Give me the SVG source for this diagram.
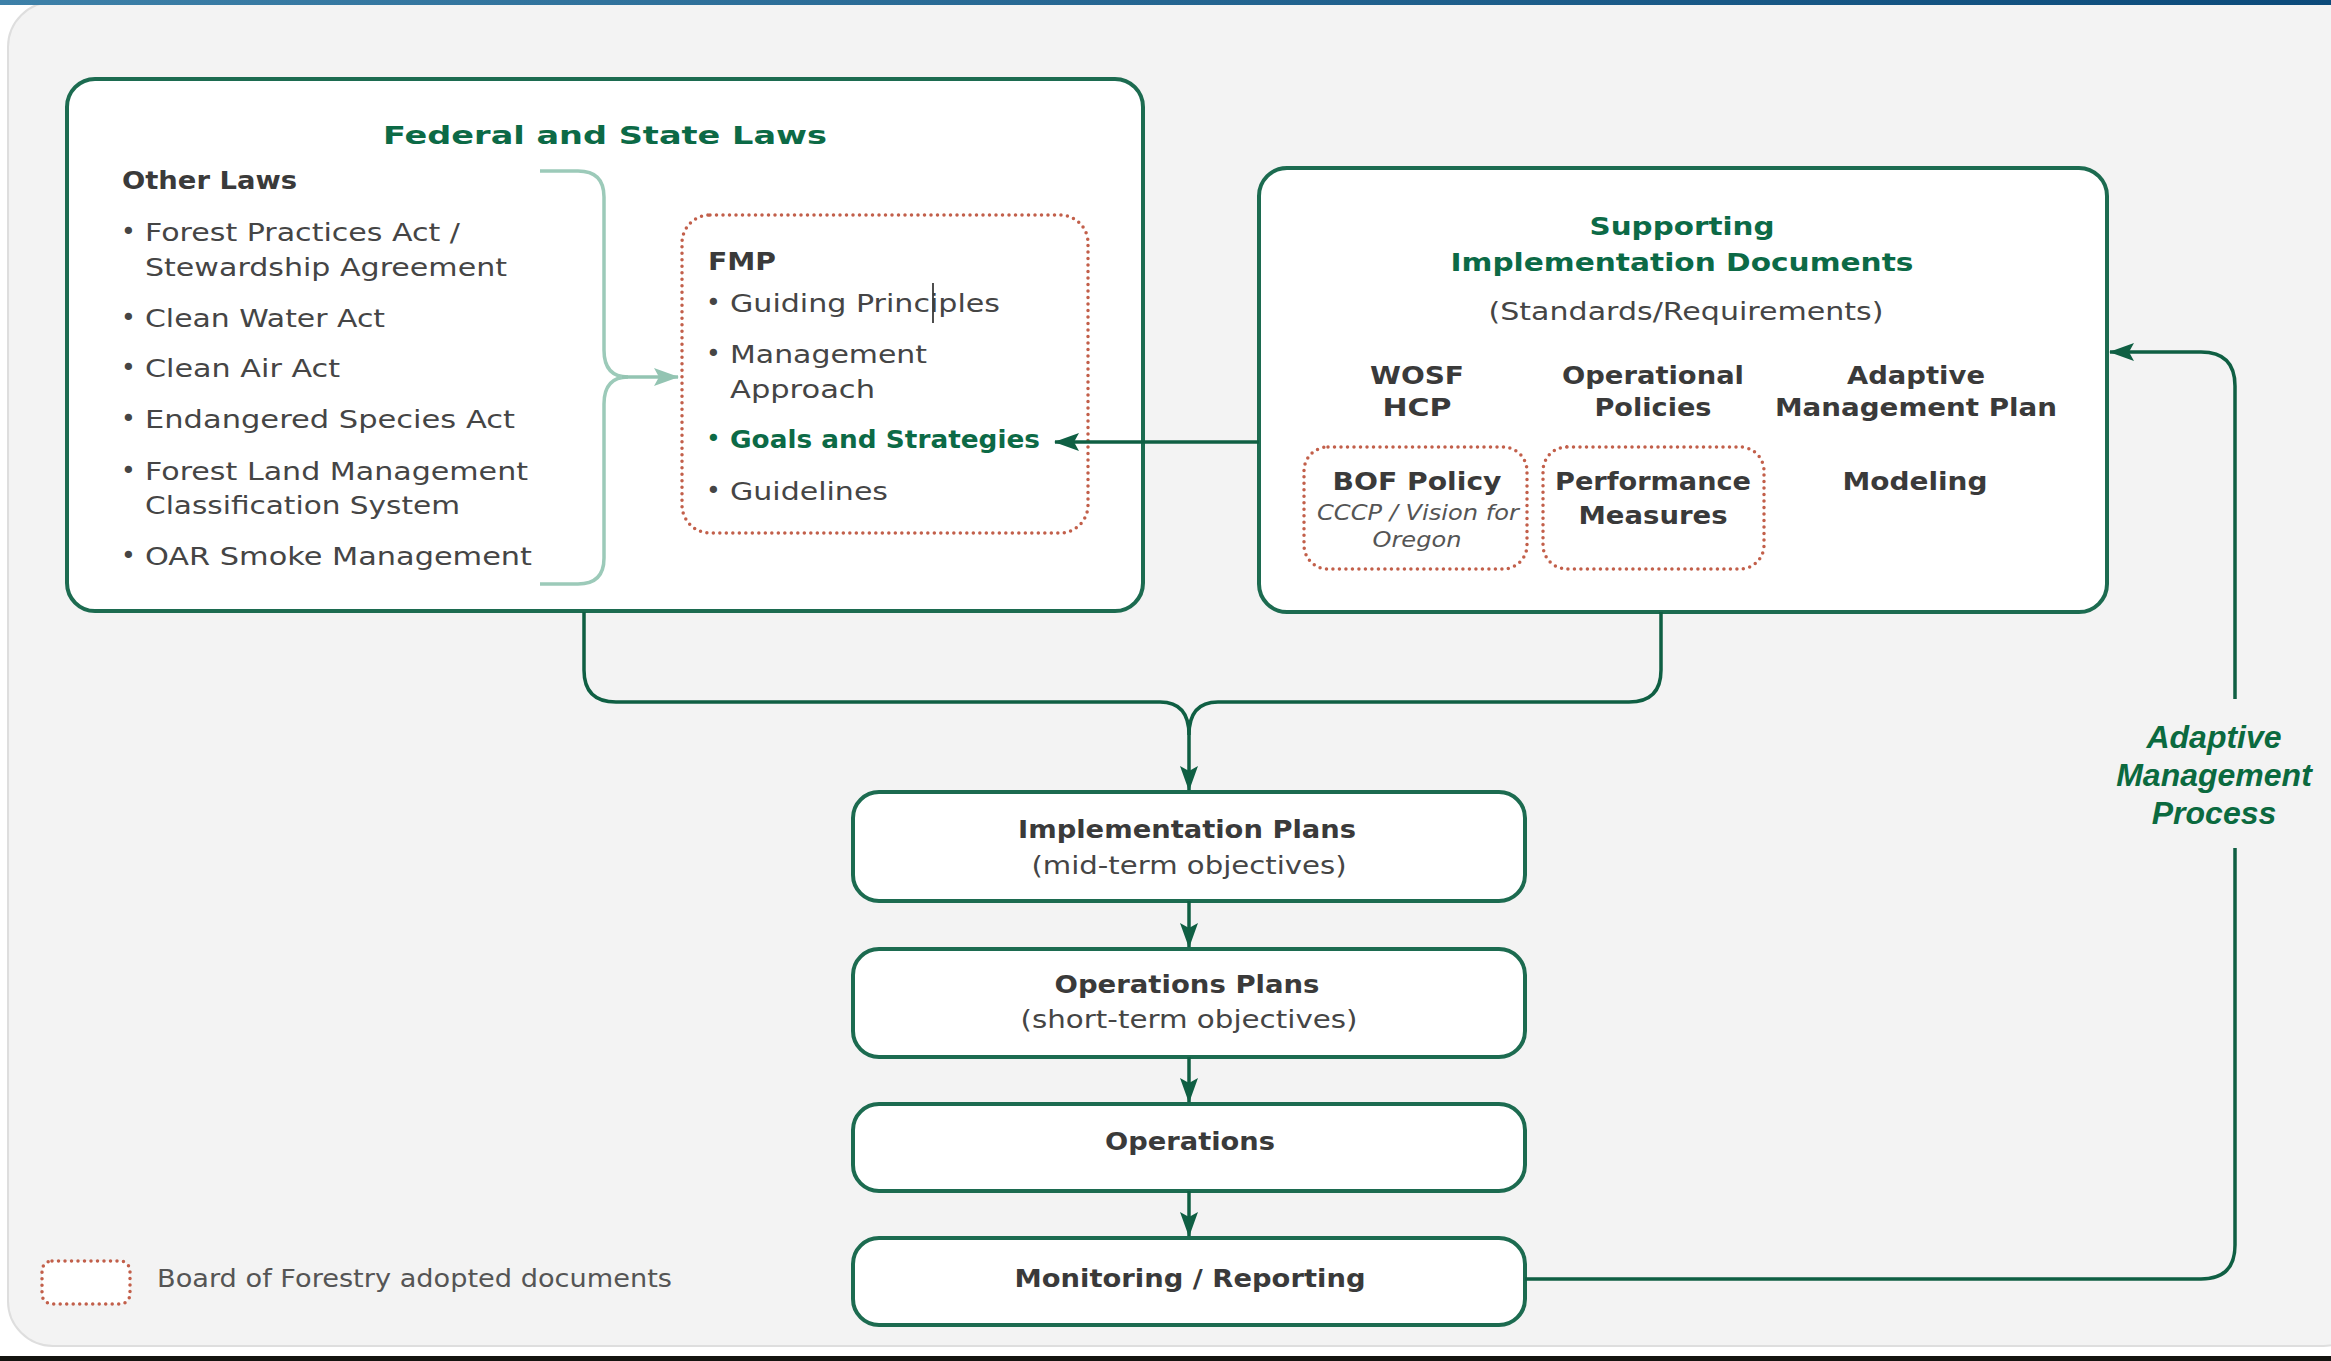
<svg xmlns="http://www.w3.org/2000/svg" width="2331" height="1361" viewBox="0 0 2331 1361">
<defs>
<linearGradient id="topbar" x1="0" y1="0" x2="1" y2="0">
<stop offset="0" stop-color="#3d80a8"/>
<stop offset="1" stop-color="#0b4a7a"/>
</linearGradient>
<marker id="ah" markerUnits="userSpaceOnUse" markerWidth="26" markerHeight="18" refX="24" refY="9" orient="auto">
<path d="M0,0 L25,9 L0,18 L5,9 Z" fill="#0f5f43"/>
</marker>
<marker id="ahl" markerUnits="userSpaceOnUse" markerWidth="26" markerHeight="18" refX="24" refY="9" orient="auto">
<path d="M0,0 L25,9 L0,18 L5,9 Z" fill="#93c4b2"/>
</marker>
<style>
.box{fill:#ffffff;stroke:#1c6b50;stroke-width:4}
.dot{fill:none;stroke:#c25f4a;stroke-width:3.5;stroke-dasharray:0 6.5;stroke-linecap:round}
.con{fill:none;stroke:#0f5f43;stroke-width:3.5}
.t{font-family:"DejaVu Sans","Liberation Sans",sans-serif;font-size:25px;fill:#454545}
.b{font-weight:bold;fill:#3a3a3a}
.g{fill:#0c6a46}
.it{font-style:italic;font-size:22px;fill:#555555}
.c{text-anchor:middle}
.amp{font-family:"Liberation Sans",Arial,sans-serif;font-size:32px;font-weight:bold;font-style:italic;fill:#0b6a3f;text-anchor:middle}
</style>
</defs>

<!-- background -->
<rect x="0" y="0" width="2331" height="1361" fill="#ffffff"/>
<rect x="8" y="2" width="2360" height="1344" rx="45" fill="#f3f3f3" stroke="#dedede" stroke-width="2"/>
<rect x="0" y="0" width="2331" height="5" fill="url(#topbar)"/>
<rect x="0" y="1356" width="2331" height="5" fill="#141410"/>

<!-- Federal and State Laws -->
<g id="federal-state-laws">
<rect class="box" x="67" y="79" width="1076" height="532" rx="28"/>
<text class="t b g c" x="605" y="144" font-size="33" textLength="444" lengthAdjust="spacingAndGlyphs">Federal and State Laws</text>
<text class="t b" x="122" y="189" font-size="25" textLength="175" lengthAdjust="spacingAndGlyphs">Other Laws</text>
<g>
<text class="t" x="121" y="240" font-size="21">•</text>
<text class="t" x="145" y="241" textLength="315" lengthAdjust="spacingAndGlyphs">Forest Practices Act /</text>
<text class="t" x="145" y="276" textLength="362" lengthAdjust="spacingAndGlyphs">Stewardship Agreement</text>
<text class="t" x="121" y="326" font-size="21">•</text>
<text class="t" x="145" y="327" textLength="240" lengthAdjust="spacingAndGlyphs">Clean Water Act</text>
<text class="t" x="121" y="376" font-size="21">•</text>
<text class="t" x="145" y="377" textLength="195" lengthAdjust="spacingAndGlyphs">Clean Air Act</text>
<text class="t" x="121" y="427" font-size="21">•</text>
<text class="t" x="145" y="428" textLength="370" lengthAdjust="spacingAndGlyphs">Endangered Species Act</text>
<text class="t" x="121" y="479" font-size="21">•</text>
<text class="t" x="145" y="480" textLength="383" lengthAdjust="spacingAndGlyphs">Forest Land Management</text>
<text class="t" x="145" y="514" textLength="315" lengthAdjust="spacingAndGlyphs">Classification System</text>
<text class="t" x="121" y="564" font-size="21">•</text>
<text class="t" x="145" y="565" textLength="387" lengthAdjust="spacingAndGlyphs">OAR Smoke Management</text>
</g>
<path d="M540 171 H578 Q604 171 604 197 V350 Q604 377 628 377 Q604 377 604 404 V558 Q604 584 578 584 H540" fill="none" stroke="#9ccab9" stroke-width="3.5"/>
</g>

<!-- FMP -->
<g id="fmp">
<rect class="dot" x="682" y="215" width="406" height="318" rx="28" style="fill:#ffffff"/>
<text class="t b" x="708" y="270" font-size="23" textLength="68" lengthAdjust="spacingAndGlyphs">FMP</text>
<text class="t" x="706" y="311" font-size="21">•</text>
<text class="t" x="730" y="312" textLength="270" lengthAdjust="spacingAndGlyphs">Guiding Principles</text>
<line x1="933" y1="283" x2="933" y2="323" stroke="#3a3a3a" stroke-width="1.8"/>
<text class="t" x="706" y="362" font-size="21">•</text>
<text class="t" x="730" y="363" textLength="197" lengthAdjust="spacingAndGlyphs">Management</text>
<text class="t" x="730" y="398" textLength="145" lengthAdjust="spacingAndGlyphs">Approach</text>
<text class="t g" x="706" y="447" font-size="21">•</text>
<text class="t g" x="730" y="448" textLength="310" lengthAdjust="spacingAndGlyphs" style="font-weight:600">Goals and Strategies</text>
<text class="t" x="706" y="499" font-size="21">•</text>
<text class="t" x="730" y="500" textLength="158" lengthAdjust="spacingAndGlyphs">Guidelines</text>
</g>

<!-- Supporting Implementation Documents -->
<g id="supporting-docs">
<rect class="box" x="1259" y="168" width="848" height="444" rx="28"/>
<text class="t b g c" x="1682" y="235" font-size="29" textLength="185" lengthAdjust="spacingAndGlyphs">Supporting</text>
<text class="t b g c" x="1682" y="271" font-size="29" textLength="463" lengthAdjust="spacingAndGlyphs">Implementation Documents</text>
<text class="t c" x="1686" y="320" textLength="395" lengthAdjust="spacingAndGlyphs">(Standards/Requirements)</text>
</g>
<g id="wosf-hcp">
<text class="t b c" x="1417" y="384" font-size="27" textLength="94" lengthAdjust="spacingAndGlyphs">WOSF</text>
<text class="t b c" x="1417" y="416" font-size="27" textLength="69" lengthAdjust="spacingAndGlyphs">HCP</text>
</g>
<g id="operational-policies">
<text class="t b c" x="1653" y="384" font-size="27" textLength="182" lengthAdjust="spacingAndGlyphs">Operational</text>
<text class="t b c" x="1653" y="416" font-size="27" textLength="117" lengthAdjust="spacingAndGlyphs">Policies</text>
</g>
<g id="adaptive-management-plan">
<text class="t b c" x="1916" y="384" font-size="27" textLength="138" lengthAdjust="spacingAndGlyphs">Adaptive</text>
<text class="t b c" x="1916" y="416" font-size="27" textLength="282" lengthAdjust="spacingAndGlyphs">Management Plan</text>
</g>
<g id="bof-policy">
<rect class="dot" x="1304" y="447" width="223" height="122" rx="24"/>
<text class="t b c" x="1417" y="490" font-size="27" textLength="169" lengthAdjust="spacingAndGlyphs">BOF Policy</text>
<text class="t it c" x="1418" y="520" textLength="202" lengthAdjust="spacingAndGlyphs">CCCP / Vision for</text>
<text class="t it c" x="1417" y="547" textLength="89" lengthAdjust="spacingAndGlyphs">Oregon</text>
</g>
<g id="performance-measures">
<rect class="dot" x="1543" y="447" width="221" height="122" rx="24"/>
<text class="t b c" x="1653" y="490" font-size="27" textLength="196" lengthAdjust="spacingAndGlyphs">Performance</text>
<text class="t b c" x="1653" y="524" font-size="27" textLength="149" lengthAdjust="spacingAndGlyphs">Measures</text>
</g>
<g id="modeling">
<text class="t b c" x="1915" y="490" font-size="27" textLength="145" lengthAdjust="spacingAndGlyphs">Modeling</text>
</g>

<!-- Flow boxes -->
<g id="implementation-plans">
<rect class="box" x="853" y="792" width="672" height="109" rx="26"/>
<text class="t b c" x="1187" y="838" font-size="27" textLength="338" lengthAdjust="spacingAndGlyphs">Implementation Plans</text>
<text class="t c" x="1189" y="874" textLength="315" lengthAdjust="spacingAndGlyphs">(mid-term objectives)</text>
</g>
<g id="operations-plans">
<rect class="box" x="853" y="949" width="672" height="108" rx="26"/>
<text class="t b c" x="1187" y="993" font-size="27" textLength="265" lengthAdjust="spacingAndGlyphs">Operations Plans</text>
<text class="t c" x="1189" y="1028" textLength="337" lengthAdjust="spacingAndGlyphs">(short-term objectives)</text>
</g>
<g id="operations">
<rect class="box" x="853" y="1104" width="672" height="87" rx="26"/>
<text class="t b c" x="1190" y="1150" font-size="27" textLength="170" lengthAdjust="spacingAndGlyphs">Operations</text>
</g>
<g id="monitoring-reporting">
<rect class="box" x="853" y="1238" width="672" height="87" rx="26"/>
<text class="t b c" x="1190" y="1287" font-size="27" textLength="351" lengthAdjust="spacingAndGlyphs">Monitoring / Reporting</text>
</g>

<!-- Adaptive management label -->
<g id="adaptive-management-process">
<text class="amp" x="2214" y="748">Adaptive</text>
<text class="amp" x="2214" y="786">Management</text>
<text class="amp" x="2214" y="824">Process</text>
</g>

<!-- Legend -->
<g id="legend">
<rect class="dot" x="42" y="1261" width="88" height="43" rx="10" style="fill:#ffffff"/>
<text class="t" x="157" y="1287" textLength="515" lengthAdjust="spacingAndGlyphs" style="fill:#555555">Board of Forestry adopted documents</text>
</g>

<!-- Connectors -->
<g id="connectors">
<line x1="622" y1="377" x2="678" y2="377" stroke="#93c4b2" stroke-width="3.5" marker-end="url(#ahl)"/>
<line class="con" x1="1259" y1="442" x2="1055" y2="442" marker-end="url(#ah)"/>
<path class="con" d="M584 612 V670 Q584 702 616 702 H1160 Q1189 702 1189 735"/>
<path class="con" d="M1661 612 V670 Q1661 702 1629 702 H1218 Q1189 702 1189 735 V790" marker-end="url(#ah)"/>
<line class="con" x1="1189" y1="901" x2="1189" y2="947" marker-end="url(#ah)"/>
<line class="con" x1="1189" y1="1057" x2="1189" y2="1102" marker-end="url(#ah)"/>
<line class="con" x1="1189" y1="1191" x2="1189" y2="1236" marker-end="url(#ah)"/>
<path class="con" d="M1525 1279 H2201 Q2235 1279 2235 1245 V848"/>
<path class="con" d="M2235 699 V386 Q2235 352 2201 352 H2110" marker-end="url(#ah)"/>
</g>
</svg>
